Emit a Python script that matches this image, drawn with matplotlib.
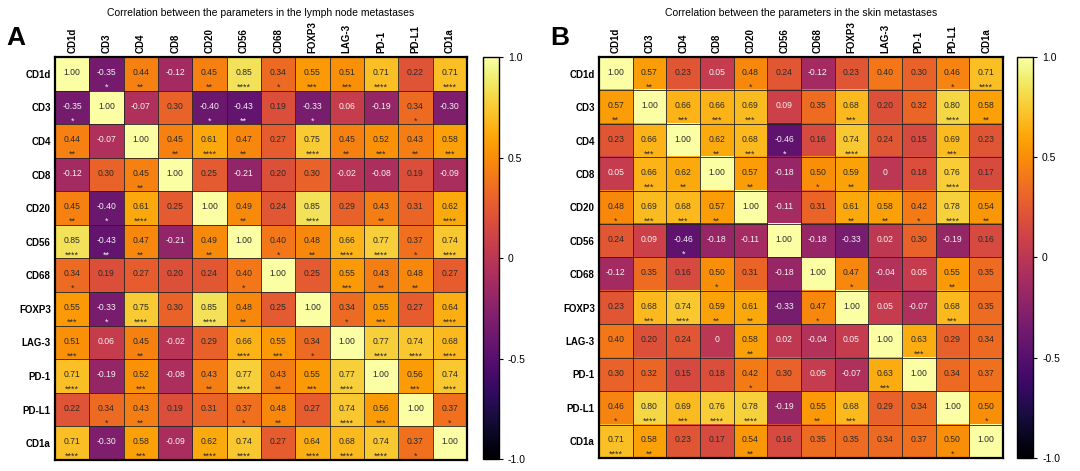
import numpy as np
import matplotlib
matplotlib.use('Agg')
import matplotlib.pyplot as plt

plt.rcParams['font.family'] = ['Liberation Sans', 'DejaVu Sans']

markers = ['CD1d', 'CD3', 'CD4', 'CD8', 'CD20', 'CD56', 'CD68', 'FOXP3',
           'LAG-3', 'PD-1', 'PD-L1', 'CD1a']

# lymph node metastases (panel A)
corr_a = [
    [1.00, -0.35, 0.44, -0.12, 0.45, 0.85, 0.34, 0.55, 0.51, 0.71, 0.22, 0.71],
    [-0.35, 1.00, -0.07, 0.30, -0.40, -0.43, 0.19, -0.33, 0.06, -0.19, 0.34, -0.30],
    [0.44, -0.07, 1.00, 0.45, 0.61, 0.47, 0.27, 0.75, 0.45, 0.52, 0.43, 0.58],
    [-0.12, 0.30, 0.45, 1.00, 0.25, -0.21, 0.20, 0.30, -0.02, -0.08, 0.19, -0.09],
    [0.45, -0.40, 0.61, 0.25, 1.00, 0.49, 0.24, 0.85, 0.29, 0.43, 0.31, 0.62],
    [0.85, -0.43, 0.47, -0.21, 0.49, 1.00, 0.40, 0.48, 0.66, 0.77, 0.37, 0.74],
    [0.34, 0.19, 0.27, 0.20, 0.24, 0.40, 1.00, 0.25, 0.55, 0.43, 0.48, 0.27],
    [0.55, -0.33, 0.75, 0.30, 0.85, 0.48, 0.25, 1.00, 0.34, 0.55, 0.27, 0.64],
    [0.51, 0.06, 0.45, -0.02, 0.29, 0.66, 0.55, 0.34, 1.00, 0.77, 0.74, 0.68],
    [0.71, -0.19, 0.52, -0.08, 0.43, 0.77, 0.43, 0.55, 0.77, 1.00, 0.56, 0.74],
    [0.22, 0.34, 0.43, 0.19, 0.31, 0.37, 0.48, 0.27, 0.74, 0.56, 1.00, 0.37],
    [0.71, -0.30, 0.58, -0.09, 0.62, 0.74, 0.27, 0.64, 0.68, 0.74, 0.37, 1.00],
]
stars_a = [
    [0, 1, 2, 0, 2, 4, 1, 3, 3, 4, 0, 4],
    [1, 0, 0, 0, 1, 2, 0, 1, 0, 0, 1, 0],
    [2, 0, 0, 2, 4, 2, 0, 4, 2, 3, 2, 3],
    [0, 0, 2, 0, 0, 0, 0, 0, 0, 0, 0, 0],
    [2, 1, 4, 0, 0, 2, 0, 4, 0, 2, 0, 4],
    [4, 2, 2, 0, 2, 0, 1, 2, 4, 4, 1, 4],
    [1, 0, 0, 0, 0, 1, 0, 0, 3, 2, 2, 0],
    [3, 1, 4, 0, 4, 2, 0, 0, 1, 3, 0, 4],
    [3, 0, 2, 0, 0, 4, 3, 1, 0, 4, 4, 4],
    [4, 0, 3, 0, 2, 4, 2, 3, 4, 0, 3, 4],
    [0, 1, 2, 0, 0, 1, 2, 0, 4, 3, 0, 1],
    [4, 0, 3, 0, 4, 4, 0, 4, 4, 4, 1, 0],
]

# skin metastases (panel B)
corr_b = [
    [1.00, 0.57, 0.23, 0.05, 0.48, 0.24, -0.12, 0.23, 0.40, 0.30, 0.46, 0.71],
    [0.57, 1.00, 0.66, 0.66, 0.69, 0.09, 0.35, 0.68, 0.20, 0.32, 0.80, 0.58],
    [0.23, 0.66, 1.00, 0.62, 0.68, -0.46, 0.16, 0.74, 0.24, 0.15, 0.69, 0.23],
    [0.05, 0.66, 0.62, 1.00, 0.57, -0.18, 0.50, 0.59, 0.00, 0.18, 0.76, 0.17],
    [0.48, 0.69, 0.68, 0.57, 1.00, -0.11, 0.31, 0.61, 0.58, 0.42, 0.78, 0.54],
    [0.24, 0.09, -0.46, -0.18, -0.11, 1.00, -0.18, -0.33, 0.02, 0.30, -0.19, 0.16],
    [-0.12, 0.35, 0.16, 0.50, 0.31, -0.18, 1.00, 0.47, -0.04, 0.05, 0.55, 0.35],
    [0.23, 0.68, 0.74, 0.59, 0.61, -0.33, 0.47, 1.00, 0.05, -0.07, 0.68, 0.35],
    [0.40, 0.20, 0.24, 0.00, 0.58, 0.02, -0.04, 0.05, 1.00, 0.63, 0.29, 0.34],
    [0.30, 0.32, 0.15, 0.18, 0.42, 0.30, 0.05, -0.07, 0.63, 1.00, 0.34, 0.37],
    [0.46, 0.80, 0.69, 0.76, 0.78, -0.19, 0.55, 0.68, 0.29, 0.34, 1.00, 0.50],
    [0.71, 0.58, 0.23, 0.17, 0.54, 0.16, 0.35, 0.35, 0.34, 0.37, 0.50, 1.00],
]
stars_b = [
    [0, 2, 0, 0, 1, 0, 0, 0, 0, 0, 1, 4],
    [2, 0, 3, 3, 3, 0, 0, 3, 0, 0, 4, 2],
    [0, 3, 0, 2, 3, 1, 0, 4, 0, 0, 3, 0],
    [0, 3, 2, 0, 2, 0, 1, 2, 0, 0, 4, 0],
    [1, 3, 3, 2, 0, 0, 0, 2, 2, 1, 4, 2],
    [0, 0, 1, 0, 0, 0, 0, 0, 0, 0, 0, 0],
    [0, 0, 0, 1, 0, 0, 0, 1, 0, 0, 2, 0],
    [0, 3, 4, 2, 2, 0, 1, 0, 0, 0, 3, 0],
    [0, 0, 0, 0, 2, 0, 0, 0, 0, 3, 0, 0],
    [0, 0, 0, 0, 1, 0, 0, 0, 3, 0, 0, 0],
    [1, 4, 3, 4, 4, 0, 2, 3, 0, 0, 0, 1],
    [4, 2, 0, 0, 2, 0, 0, 0, 0, 0, 1, 0],
]

titles = ['Correlation between the parameters in the lymph node metastases',
          'Correlation between the parameters in the skin metastases']
letters = ['A', 'B']
cbar_ticks = [1.0, 0.5, 0.0, -0.5, -1.0]
cbar_labels = ['1.0', '0.5', '0', '-0.5', '-1.0']


def fmt(v):
    if v == 0:
        return '0'
    return '%.2f' % v


def draw_panel(ax, cax, corr, stars):
    data = np.array(corr)
    n = len(markers)
    im = ax.imshow(data, cmap='inferno', vmin=-1, vmax=1, aspect='auto',
                   interpolation='nearest')
    for i in range(n):
        for j in range(n):
            v = data[i, j]
            col = '#f2f2f2' if v < 0.1 else '#2b2b2b'
            ax.text(j, i - 0.04, fmt(v), ha='center', va='center',
                    fontsize=6.2, color=col)
            if stars[i][j]:
                ax.text(j, i + 0.4, '*' * stars[i][j], ha='center',
                        va='center', fontsize=6.5, color=col)
    ax.set_xticks(np.arange(n))
    ax.set_yticks(np.arange(n))
    ax.set_xticklabels(markers, rotation=90, fontsize=7, fontweight='bold')
    ax.set_yticklabels(markers, fontsize=7, fontweight='bold')
    ax.xaxis.tick_top()
    ax.tick_params(length=0, pad=3)
    ax.set_xticks(np.arange(-0.5, n, 1), minor=True)
    ax.set_yticks(np.arange(-0.5, n, 1), minor=True)
    ax.tick_params(which='minor', length=0)
    ax.grid(which='minor', color='#222222', lw=0.6)
    for s in ax.spines.values():
        s.set_linewidth(1.6)

    cb = plt.colorbar(im, cax=cax, ticks=cbar_ticks)
    cb.ax.set_yticklabels(cbar_labels, fontsize=7.5)
    cb.ax.tick_params(length=3, width=0.8)
    cb.outline.set_linewidth(1.0)


fig = plt.figure(figsize=(10.8, 4.71), dpi=100)

ax_a = fig.add_axes([0.0509, 0.0234, 0.3815, 0.8556])
cax_a = fig.add_axes([0.4472, 0.0255, 0.0148, 0.853])
ax_b = fig.add_axes([0.5546, 0.0276, 0.3741, 0.8514])
cax_b = fig.add_axes([0.9417, 0.0276, 0.0148, 0.8514])

draw_panel(ax_a, cax_a, corr_a, stars_a)
draw_panel(ax_b, cax_b, corr_b, stars_b)

for ax, t, letter in zip([ax_a, ax_b], titles, letters):
    pos = ax.get_position()
    fig.text((pos.x0 + pos.x1) / 2, 0.972, t, ha='center', va='center',
             fontsize=7.5)
    fig.text(pos.x0 - 0.045, 0.92, letter, ha='left', va='center',
             fontsize=19, fontweight='bold')

fig.savefig('out.png', dpi=100)
